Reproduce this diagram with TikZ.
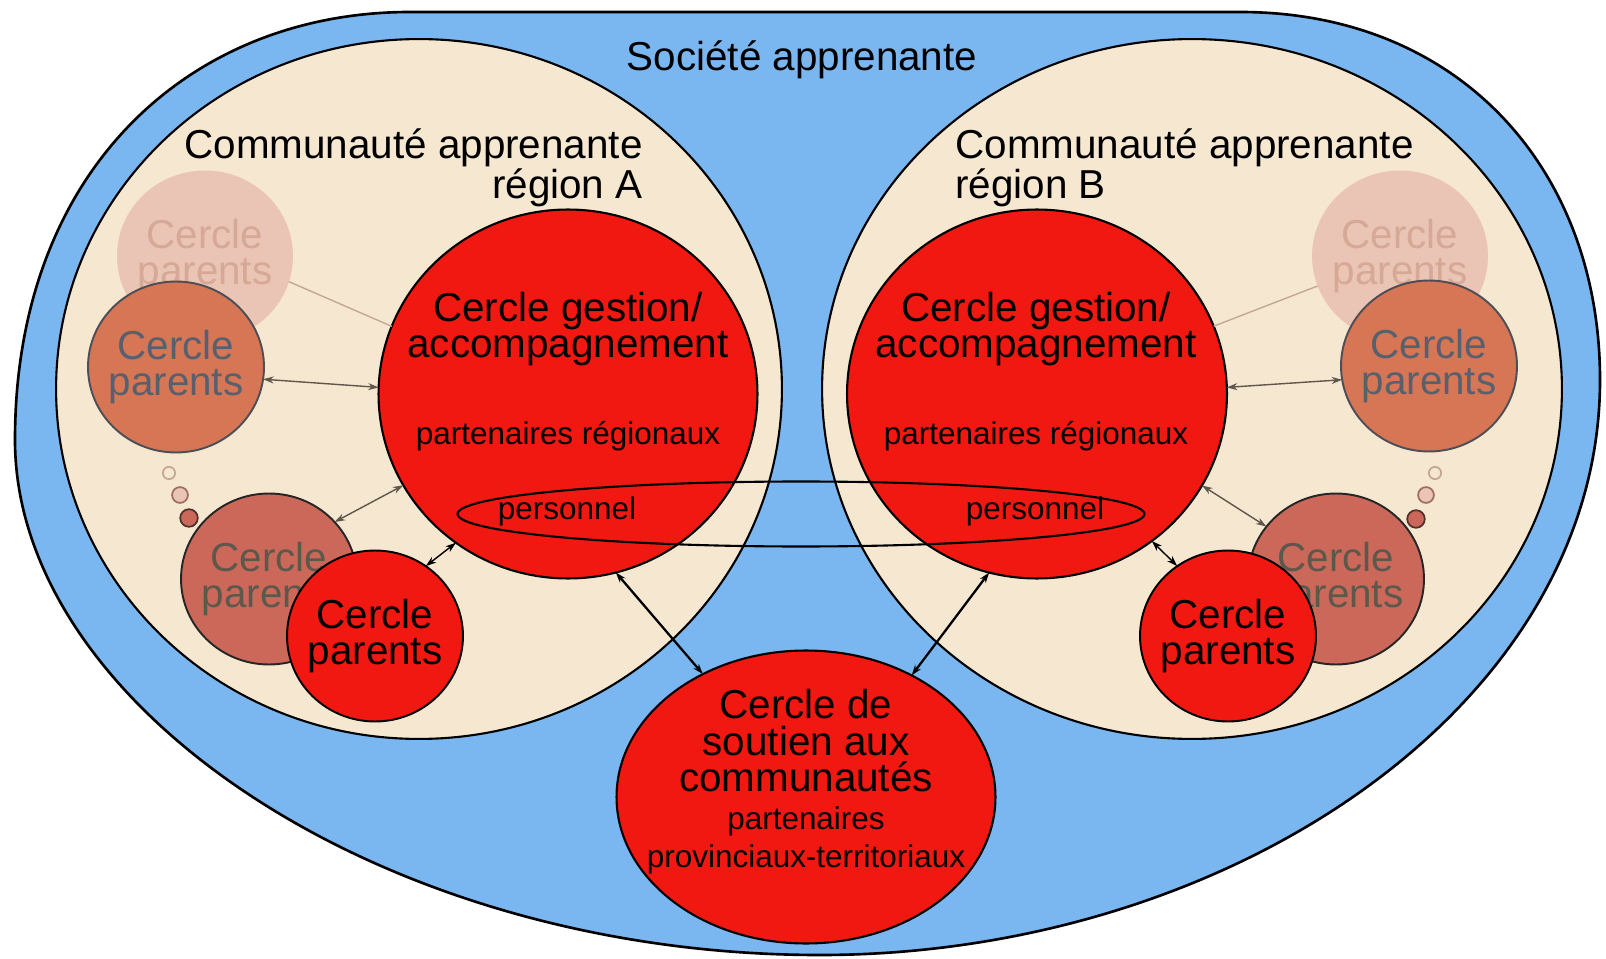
\documentclass[tikz,border=0pt]{standalone}
\usepackage{fontspec}
\setmainfont{Liberation Sans}
\usetikzlibrary{shapes.geometric,arrows.meta}
\definecolor{blueC}{RGB}{122,183,240}
\definecolor{beigeC}{RGB}{246,231,208}
\definecolor{redC}{RGB}{242,24,18}
\definecolor{fadedC}{RGB}{234,196,180}
\definecolor{fadedT}{RGB}{214,168,150}
\definecolor{fadedL}{RGB}{196,168,148}
\definecolor{orangeC}{RGB}{214,118,84}
\definecolor{orangeT}{RGB}{88,96,110}
\definecolor{orangeB}{RGB}{78,78,86}
\definecolor{brownC}{RGB}{204,104,90}
\definecolor{brownT}{RGB}{92,88,76}
\definecolor{arrowL}{RGB}{96,86,76}
\newcommand\BigTxt{\fontsize{23pt}{20.8pt}\selectfont}
\newcommand\SmallTxt{\fontsize{17.9pt}{21.6pt}\selectfont}
\begin{document}
\begin{tikzpicture}[x=0.02cm,y=-0.02cm,
  pcircle/.style={ellipse, inner xsep=-8pt, inner ysep=0pt, outer sep=0pt, minimum width=3.52cm, minimum height=3.42cm, font=\BigTxt, align=center, line width=1.1pt},
  bigcircle/.style={ellipse, inner sep=0pt, outer sep=0pt, draw=black, line width=1.2pt},
  dotring/.style={circle, inner sep=0pt, outer sep=0pt, line width=1pt},
  arr/.style={{Stealth[length=6pt,width=4pt]}-{Stealth[length=6pt,width=4pt]}, line width=0.8pt},
  lbl/.style={inner sep=0pt, font=\BigTxt, align=center},
  slbl/.style={inner sep=0pt, font=\SmallTxt, align=center}]
\useasboundingbox (0,0) rectangle (1606,959);
\fill[white] (0,0) rectangle (1606,959);
% outer shape
\draw[fill=blueC, line width=1.5pt] (410,12) -- (1240,12)
  .. controls (1460,12) and (1600,170) .. (1600,380)
  .. controls (1600,705) and (1230,955) .. (820,955)
  .. controls (380,955) and (15,705) .. (15,440)
  .. controls (15,170) and (190,12) .. (410,12) -- cycle;
% community circles
\node[bigcircle, fill=beigeC, minimum width=14.52cm, minimum height=14cm] (commA) at (419,389) {};
\node[bigcircle, fill=beigeC, minimum width=14.8cm, minimum height=14cm] (commB) at (1192,389) {};
% parent circles A
\node[pcircle, fill=fadedC, text=fadedT] (fadeA) at (205,256) {Cercle\\parents};
\node[pcircle, fill=orangeC, draw=orangeB, text=orangeT] (orA) at (176,367) {Cercle\\parents};
\node[pcircle, fill=brownC, draw=black!85, text=brownT] (brA) at (269,579) {Cercle\\parents};
\node[pcircle, fill=redC, draw=black] (rdA) at (375,636) {Cercle\\parents};
% parent circles B
\node[pcircle, fill=fadedC, text=fadedT] (fadeB) at (1400,256) {Cercle\\parents};
\node[pcircle, fill=orangeC, draw=orangeB, text=orangeT] (orB) at (1429,366) {Cercle\\parents};
\node[pcircle, fill=brownC, draw=black!85, text=brownT] (brB) at (1336,579) {Cercle\\parents};
\node[pcircle, fill=redC, draw=black] (rdB) at (1228,636) {Cercle\\parents};
% dots
\node[dotring, draw=fadedL, fill=beigeC, minimum size=7pt] (dA1) at (169,473) {};
\node[dotring, draw={rgb,255:red,160;green,110;blue,95}, fill=fadedC, minimum size=9pt] (dA2) at (180,495) {};
\node[dotring, draw={rgb,255:red,80;green,50;blue,45}, fill=brownC, minimum size=10pt] (dA3) at (189,518) {};
\node[dotring, draw=fadedL, fill=beigeC, minimum size=7pt] (dB1) at (1435,473) {};
\node[dotring, draw={rgb,255:red,160;green,110;blue,95}, fill=fadedC, minimum size=9pt] (dB2) at (1426,495) {};
\node[dotring, draw={rgb,255:red,80;green,50;blue,45}, fill=brownC, minimum size=10pt] (dB3) at (1416,519) {};
% main circles
\node[bigcircle, fill=redC, minimum width=7.58cm, minimum height=7.38cm] (gestA) at (568,394) {};
\node[bigcircle, fill=redC, minimum width=7.6cm, minimum height=7.38cm] (gestB) at (1037,394) {};
\node[bigcircle, fill=redC, minimum width=7.58cm, minimum height=5.86cm] (sout) at (806,797) {};
% connectors
\draw[fadedL, line width=0.8pt] (fadeA.-17) -- (gestA.159);
\draw[arr, arrowL] (orA.-8) -- (gestA.178);
\draw[arr, arrowL] (brA.41) -- (gestA.209);
\draw[arr, black] (rdA.54) -- (gestA.233);
\draw[arr, black, line width=1.3pt] (sout.130) -- (gestA.285);
\draw[fadedL, line width=0.8pt] (fadeB.200) -- (gestB.21);
\draw[arr, arrowL] (orB.189) -- (gestB.2);
\draw[arr, arrowL] (brB.143) -- (gestB.331);
\draw[arr, black] (rdB.126) -- (gestB.308);
\draw[arr, black, line width=1.3pt] (sout.49) -- (gestB.255);
% personnel ellipse
\node[bigcircle, minimum width=13.74cm, minimum height=1.3cm] (pers) at (801,514) {};
% texts
\node[lbl] (soc) at (802,60) {Société apprenante};
\node[lbl, anchor=east, align=right] (tA) at (643,168) {Communauté apprenante\\région A};
\node[lbl, anchor=west, align=left] (tB) at (955,168) {Communauté apprenante\\région B};
\node[lbl] (gA) at (568,329) {Cercle gestion/\\accompagnement};
\node[lbl] (gB) at (1036,329) {Cercle gestion/\\accompagnement};
\node[slbl] (pA) at (568,436) {partenaires régionaux};
\node[slbl] (pB) at (1036,436) {partenaires régionaux};
\node[slbl] (perA) at (567,511) {personnel};
\node[slbl] (perB) at (1035,511) {personnel};
\node[lbl] (sT) at (806,741) {Cercle de\\soutien aux\\communautés};
\node[slbl] (sP) at (806,840) {partenaires\\provinciaux-territoriaux};
\end{tikzpicture}
\end{document}
